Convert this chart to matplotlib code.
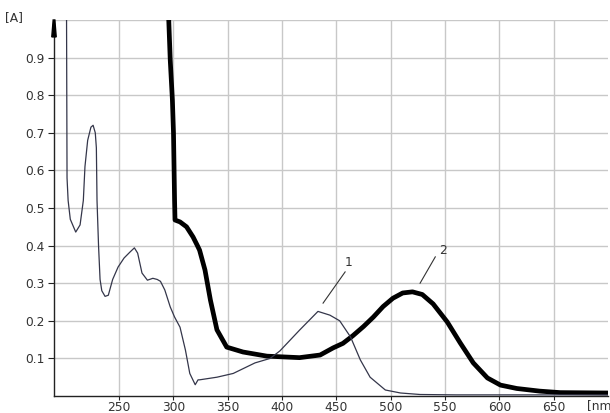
import matplotlib
matplotlib.use("Agg")
import matplotlib.pyplot as plt
from matplotlib.patches import Polygon

plt.rcParams['font.family'] = ['DejaVu Sans']

# Curve 1 (thin)
wl1 = [201.5, 202, 203, 205, 210, 214, 217, 218.5, 221, 224, 226, 228, 229, 229.6, 231,
       232.4, 234, 237, 240, 244, 249, 254.5, 260, 264, 267, 271, 276, 281, 285, 288,
       292, 297, 301, 306, 311, 315, 320, 322.6, 324, 340, 355, 375, 389, 398, 416,
       433, 444, 453, 463, 472, 481, 495, 509, 527, 560, 650, 700]
a1 = [1.05, 0.58, 0.52, 0.47, 0.436, 0.455, 0.52, 0.61, 0.68, 0.715, 0.72, 0.70, 0.66, 0.52, 0.40,
      0.31, 0.28, 0.265, 0.268, 0.31, 0.343, 0.367, 0.383, 0.394, 0.38, 0.327, 0.308, 0.313, 0.31, 0.305,
      0.282, 0.237, 0.21, 0.183, 0.122, 0.06, 0.03, 0.043, 0.043, 0.05, 0.06, 0.088, 0.10, 0.12, 0.175,
      0.225, 0.215, 0.20, 0.157, 0.096, 0.05, 0.016, 0.008, 0.004, 0.003, 0.003, 0.003]

# Curve 2 (thick)
wl2 = [295, 297, 299, 300, 300.5, 301, 301.4, 306, 312, 318, 322, 324, 329, 334, 340, 349,
       364, 386, 416, 435, 447, 456, 465, 475, 484, 493, 502, 511, 520, 529, 539, 552,
       564, 576, 589, 601, 616, 637, 656, 700]
a2 = [1.05, 0.894, 0.787, 0.70, 0.61, 0.52, 0.468, 0.463, 0.45, 0.423, 0.40, 0.388, 0.335, 0.255, 0.176, 0.13,
      0.117, 0.106, 0.102, 0.109, 0.128, 0.14, 0.16, 0.185, 0.21, 0.238, 0.26, 0.274, 0.277, 0.27, 0.245, 0.197,
      0.141, 0.088, 0.048, 0.029, 0.02, 0.013, 0.009, 0.008]

xticks = [250, 300, 350, 400, 450, 500, 550, 600, 650]
yticks = [0.1, 0.2, 0.3, 0.4, 0.5, 0.6, 0.7, 0.8, 0.9]
xlabel = "[nm"
ylabel = "[A]"
labels = ["1", "2"]

fs = 8.8
txt_c = '#333333'

fig = plt.figure(figsize=(6.10, 4.13), dpi=100)
ax = fig.add_axes([54/610, 1-396/413, (608-54)/610, (396-20)/413])
ax.set_xlim(190, 700)
ax.set_ylim(0, 1.0)

grid_c = '#c8c8c8'
ax.set_xticks(xticks)
ax.set_yticks(yticks)
ax.set_yticklabels([f"{v:.1f}" for v in yticks])
ax.grid(True, color=grid_c, linewidth=1.0)
ax.axhline(1.0, color=grid_c, linewidth=1.0)
ax.set_axisbelow(True)

for s in ['top', 'right']:
    ax.spines[s].set_visible(False)
for s in ['left', 'bottom']:
    ax.spines[s].set_color('#222222')
    ax.spines[s].set_linewidth(1.0)

ax.tick_params(axis='y', direction='out', length=4, width=0.8, color='#222222',
               labelsize=fs, labelcolor=txt_c, pad=3)
ax.tick_params(axis='x', direction='out', length=3, width=0.8, color='#222222',
               labelsize=fs, labelcolor=txt_c, pad=0.5)

ax.plot(wl2, a2, color='black', linewidth=3.4, solid_joinstyle='round', solid_capstyle='round', zorder=3)
ax.plot(wl1, a1, color='#34364a', linewidth=0.9, zorder=4)

# annotations
ax.plot([437.7, 458], [0.247, 0.33], color='#333333', linewidth=0.8, zorder=5)
ax.text(460.7, 0.354, labels[0], fontsize=fs, color=txt_c, ha='center', va='center')
ax.plot([527, 541], [0.30, 0.37], color='#333333', linewidth=0.8, zorder=5)
ax.text(548, 0.388, labels[1], fontsize=fs, color=txt_c, ha='center', va='center')

# y-axis arrow
arrow = Polygon([[-0.004, 0.955], [0.004, 0.955], [0.0015, 1.0], [-0.0015, 1.0]], closed=True,
                transform=ax.transAxes, color='black', clip_on=False, zorder=6)
ax.add_patch(arrow)

fig.text(5/610, 1-18/413, ylabel, fontsize=fs, color=txt_c, ha='left', va='center')
fig.text(587/610, 1-406/413, xlabel, fontsize=fs, color=txt_c, ha='left', va='center')

fig.savefig("out.png", dpi=100)
